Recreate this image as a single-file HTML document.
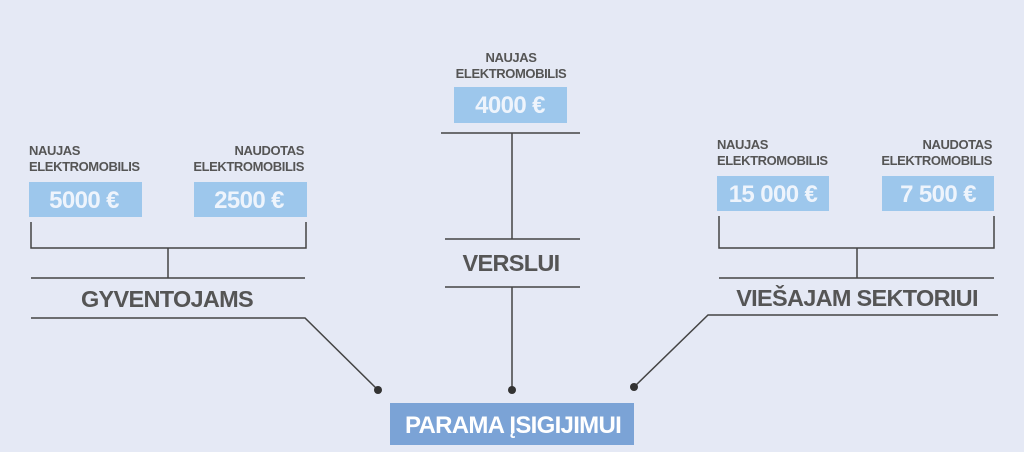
<!DOCTYPE html>
<html><head><meta charset="utf-8"><style>
html,body{margin:0;padding:0;background:#e5e9f5;}
svg{display:block;font-family:"Liberation Sans",Arial,sans-serif;}
</style></head><body>
<svg width="1024" height="452" viewBox="0 0 1024 452" xmlns="http://www.w3.org/2000/svg">
<rect width="1024" height="452" fill="#e5e9f5"/>
<g fill="#555" font-weight="bold" font-size="13" letter-spacing="-0.4">
<text x="29" y="155">NAUJAS</text>
<text x="29" y="171">ELEKTROMOBILIS</text>
<text x="304" y="155" text-anchor="end">NAUDOTAS</text>
<text x="304" y="171" text-anchor="end">ELEKTROMOBILIS</text>
<text x="511" y="62" text-anchor="middle">NAUJAS</text>
<text x="511" y="78" text-anchor="middle">ELEKTROMOBILIS</text>
<text x="717" y="149">NAUJAS</text>
<text x="717" y="165">ELEKTROMOBILIS</text>
<text x="992" y="149" text-anchor="end">NAUDOTAS</text>
<text x="992" y="165" text-anchor="end">ELEKTROMOBILIS</text>
</g>
<g fill="#9dc7ec">
<rect x="29" y="182" width="113" height="35"/>
<rect x="194" y="182" width="113" height="35"/>
<rect x="454" y="87" width="113" height="36"/>
<rect x="717" y="176" width="112" height="35"/>
<rect x="882" y="176" width="112" height="35"/>
</g>
<g fill="#eef4fc" font-weight="bold" font-size="24" text-anchor="middle" letter-spacing="-0.6">
<text x="84" y="208">5000 €</text>
<text x="249" y="208">2500 €</text>
<text x="510" y="113">4000 €</text>
<text x="773" y="202">15 000 €</text>
<text x="938" y="202">7 500 €</text>
</g>
<g stroke="#444" stroke-width="1.5" fill="none">
<path d="M31 222V248H306V222M168 248V278M31 278H305"/>
<path d="M31 318H305L378 390"/>
<path d="M441 133H580M512 133V239M445 239H580M445 287H580M512 287V390"/>
<path d="M719 216V248H994V216M857 248V278M719 278H994"/>
<path d="M998 315H708L634 387"/>
</g>
<g fill="#333">
<circle cx="378" cy="390" r="4"/>
<circle cx="512" cy="390" r="4"/>
<circle cx="634" cy="387" r="4"/>
</g>
<g fill="#555" font-weight="bold" font-size="23.5" text-anchor="middle" letter-spacing="-0.7">
<text x="167" y="307">GYVENTOJAMS</text>
<text x="511" y="271">VERSLUI</text>
<text x="857" y="306">VIEŠAJAM SEKTORIUI</text>
</g>
<rect x="390" y="403" width="244" height="42" fill="#7ba3d6"/>
<text x="513" y="433" fill="#fff" font-weight="bold" font-size="24" text-anchor="middle" letter-spacing="-0.7">PARAMA ĮSIGIJIMUI</text>
</svg>
</body></html>
